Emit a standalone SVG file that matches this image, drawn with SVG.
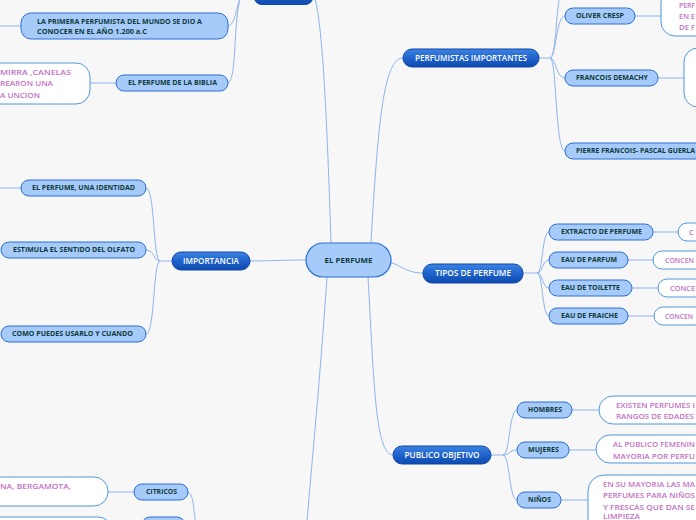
<svg xmlns="http://www.w3.org/2000/svg" width="696" height="520" viewBox="0 0 696 520">
<defs>
<linearGradient id="dk" x1="0" y1="0" x2="0" y2="1">
<stop offset="0" stop-color="#3d83e2"/>
<stop offset="0.5" stop-color="#1f63cc"/>
<stop offset="1" stop-color="#0e4aae"/>
</linearGradient>
<style>
.bg{fill:#f7f7f7}
.c{fill:none;stroke:#8db4ee;stroke-width:1}
.lt{fill:#a6cbfa;stroke:#2a6fd6;stroke-width:1}
.dk{fill:url(#dk);stroke:#0d47a8;stroke-width:1}
.wt{fill:#ffffff;stroke:#4f97dc;stroke-width:1}
.t1{font-family:"Open Sans","Liberation Sans",sans-serif;font-weight:bold;font-size:6.6px;fill:#0f3a3c}
.t2{font-family:"Open Sans","Liberation Sans",sans-serif;font-weight:600;font-size:8px;fill:#ffffff}
.t3{font-family:"Open Sans","Liberation Sans",sans-serif;font-weight:600;font-size:7.6px;fill:#c271c6}
.t0{font-family:"Open Sans","Liberation Sans",sans-serif;font-weight:bold;font-size:7.6px;fill:#0f3a3c}
</style>
</defs>
<rect class="bg" x="0" y="0" width="696" height="520"/>

<g id="connectors">
<path class="c" d="M331,243 C327,120 323,30 315,-2"/>
<path class="c" d="M371,243 C378,120 384,58 403,58"/>
<path class="c" d="M390,262 C405,268 408,273 423,273"/>
<path class="c" d="M306,260 C280,260 270,261 250,261"/>
<path class="c" d="M368,277 C374,380 375,455 393,455"/>
<path class="c" d="M327,277 C320,380 312,460 307,522"/>
<path class="c" d="M539,58 L550,58"/>
<path class="c" d="M550,58 C556,58 556,16 565,16"/>
<path class="c" d="M550,58 C556,58 556,78 565,78"/>
<path class="c" d="M550,58 C557,58 555,151 565,151"/>
<path class="c" d="M550,58 C556,58 556,10 560,-4"/>
<path class="c" d="M635,16 L661,16"/>
<path class="c" d="M658,78 L684,78"/>
<path class="c" d="M523,273 L537,273"/>
<path class="c" d="M537,273 C543,273 542,232 549,232"/>
<path class="c" d="M537,273 C543,273 542,260 549,260"/>
<path class="c" d="M537,273 C543,273 542,288 549,288"/>
<path class="c" d="M537,273 C543,273 542,316 549,316"/>
<path class="c" d="M653,232 L678,232"/>
<path class="c" d="M628,260 L653,260"/>
<path class="c" d="M632,288 L658,288"/>
<path class="c" d="M628,316 L654,316"/>
<path class="c" d="M172,261 L160,261"/>
<path class="c" d="M160,261 C153,261 155,188 146,188"/>
<path class="c" d="M160,261 C153,261 155,250 146,250"/>
<path class="c" d="M160,261 C153,261 155,334 146,334"/>
<path class="c" d="M0,188 L21,188"/>
<path class="c" d="M491,455 L503,455"/>
<path class="c" d="M503,455 C510,455 509,410 517,410"/>
<path class="c" d="M503,455 C510,455 509,450 517,450"/>
<path class="c" d="M503,455 C510,455 509,500 517,500"/>
<path class="c" d="M572,410 L599,410"/>
<path class="c" d="M569,450 L596,450"/>
<path class="c" d="M561,500 L588,500"/>
<path class="c" d="M0,26 L21,26"/>
<path class="c" d="M228,26 C236,24 236,6 241,-4"/>
<path class="c" d="M90,83 L116,83"/>
<path class="c" d="M228,83 C237,80 233,20 241,-4"/>
<path class="c" d="M108,492 L134,492"/>
<path class="c" d="M188,492 C194,494 193,510 196,524"/>
</g>

<g id="n-top"><rect class="dk" x="254" y="-20" width="59" height="24.5" rx="8"/></g>

<g id="n-center">
<rect class="lt" x="306" y="243" width="85" height="34" rx="17" style="stroke-width:1.2"/>
<text class="t0" x="348.5" y="262.7" text-anchor="middle" textLength="48" lengthAdjust="spacingAndGlyphs">EL PERFUME</text>
</g>

<g id="n-primera">
<rect class="lt" x="21" y="13" width="207" height="26" rx="10"/>
<text class="t1" x="37" y="24.2" textLength="165" lengthAdjust="spacingAndGlyphs">LA PRIMERA PERFUMISTA DEL MUNDO SE DIO A</text>
<text class="t1" x="37" y="34.2" textLength="110" lengthAdjust="spacingAndGlyphs">CONOCER EN EL AÑO 1.200 a.C</text>
</g>

<g id="n-biblia">
<rect class="lt" x="116" y="75" width="112" height="16" rx="8"/>
<text class="t1" x="128" y="85.3" textLength="89" lengthAdjust="spacingAndGlyphs">EL PERFUME DE LA BIBLIA</text>
</g>

<g id="n-biblia-d">
<rect class="wt" x="-30" y="63" width="120" height="41" rx="14"/>
<text class="t3" x="0" y="74.5" textLength="71" lengthAdjust="spacingAndGlyphs">MIRRA ,CANELAS</text>
<text class="t3" x="0" y="86" textLength="53" lengthAdjust="spacingAndGlyphs">REARON UNA</text>
<text class="t3" x="0" y="97.5" textLength="40" lengthAdjust="spacingAndGlyphs">A UNCION</text>
</g>

<g id="n-perfumistas">
<rect class="dk" x="403" y="49" width="136" height="18" rx="9"/>
<text class="t2" x="471" y="60.8" text-anchor="middle" textLength="112" lengthAdjust="spacingAndGlyphs">PERFUMISTAS IMPORTANTES</text>
</g>

<g id="n-oliver">
<rect class="lt" x="565" y="8" width="70" height="16" rx="8"/>
<text class="t1" x="576" y="18.3" textLength="48" lengthAdjust="spacingAndGlyphs">OLIVER CRESP</text>
</g>
<g id="n-oliver-d">
<rect class="wt" x="661" y="-12" width="80" height="48" rx="14"/>
<text class="t3" x="679" y="7.6" textLength="16" lengthAdjust="spacingAndGlyphs">PERF</text>
<text class="t3" x="679" y="19" textLength="16" lengthAdjust="spacingAndGlyphs">EN E</text>
<text class="t3" x="679" y="30.4" textLength="16" lengthAdjust="spacingAndGlyphs">DE F</text>
</g>

<g id="n-demachy">
<rect class="lt" x="565" y="70" width="93" height="16" rx="8"/>
<text class="t1" x="576" y="80.3" textLength="72" lengthAdjust="spacingAndGlyphs">FRANCOIS DEMACHY</text>
</g>
<g id="n-demachy-d"><rect class="wt" x="684" y="48" width="60" height="59" rx="14"/></g>

<g id="n-guerlain">
<rect class="lt" x="565" y="143" width="150" height="16" rx="8"/>
<text class="t1" x="576" y="153.3" textLength="119" lengthAdjust="spacingAndGlyphs">PIERRE FRANCOIS- PASCAL GUERLA</text>
</g>

<g id="n-tipos">
<rect class="dk" x="423" y="264" width="100" height="19" rx="9"/>
<text class="t2" x="473" y="276.3" text-anchor="middle" textLength="76" lengthAdjust="spacingAndGlyphs">TIPOS DE PERFUME</text>
</g>

<g id="n-extracto">
<rect class="lt" x="549" y="224" width="104" height="16" rx="8"/>
<text class="t1" x="561" y="234.3" textLength="81" lengthAdjust="spacingAndGlyphs">EXTRACTO DE PERFUME</text>
</g>
<g id="n-extracto-d">
<rect class="wt" x="678" y="223" width="60" height="18" rx="9"/>
<text class="t3" x="689" y="234.7">C</text>
</g>

<g id="n-parfum">
<rect class="lt" x="549" y="252" width="79" height="16" rx="8"/>
<text class="t1" x="561" y="262.3" textLength="56" lengthAdjust="spacingAndGlyphs">EAU DE PARFUM</text>
</g>
<g id="n-parfum-d">
<rect class="wt" x="653" y="251" width="80" height="18" rx="9"/>
<text class="t3" x="665" y="262.7" textLength="29" lengthAdjust="spacingAndGlyphs">CONCEN</text>
</g>

<g id="n-toilette">
<rect class="lt" x="549" y="280" width="83" height="16" rx="8"/>
<text class="t1" x="561" y="290.3" textLength="59" lengthAdjust="spacingAndGlyphs">EAU DE TOILETTE</text>
</g>
<g id="n-toilette-d">
<rect class="wt" x="658" y="279" width="80" height="18" rx="9"/>
<text class="t3" x="670" y="290.7" textLength="25" lengthAdjust="spacingAndGlyphs">CONCE</text>
</g>

<g id="n-fraiche">
<rect class="lt" x="549" y="308" width="79" height="16" rx="8"/>
<text class="t1" x="561" y="318.3" textLength="57" lengthAdjust="spacingAndGlyphs">EAU DE FRAICHE</text>
</g>
<g id="n-fraiche-d">
<rect class="wt" x="654" y="307" width="80" height="18" rx="9"/>
<text class="t3" x="665" y="318.7" textLength="28" lengthAdjust="spacingAndGlyphs">CONCEN</text>
</g>

<g id="n-importancia">
<rect class="dk" x="172" y="252" width="78" height="18" rx="9"/>
<text class="t2" x="211" y="263.8" text-anchor="middle" textLength="56" lengthAdjust="spacingAndGlyphs">IMPORTANCIA</text>
</g>

<g id="n-identidad">
<rect class="lt" x="21" y="180" width="125" height="16" rx="8"/>
<text class="t1" x="32" y="190.3" textLength="103" lengthAdjust="spacingAndGlyphs">EL PERFUME, UNA IDENTIDAD</text>
</g>
<g id="n-olfato">
<rect class="lt" x="1" y="242" width="145" height="16" rx="8"/>
<text class="t1" x="13" y="252.3" textLength="122" lengthAdjust="spacingAndGlyphs">ESTIMULA EL SENTIDO DEL OLFATO</text>
</g>
<g id="n-usarlo">
<rect class="lt" x="1" y="326" width="145" height="16" rx="8"/>
<text class="t1" x="12" y="336.3" textLength="121" lengthAdjust="spacingAndGlyphs">COMO PUEDES USARLO Y CUANDO</text>
</g>

<g id="n-publico">
<rect class="dk" x="393" y="446" width="98" height="18" rx="9"/>
<text class="t2" x="442" y="457.8" text-anchor="middle" textLength="75" lengthAdjust="spacingAndGlyphs">PUBLICO OBJETIVO</text>
</g>

<g id="n-hombres">
<rect class="lt" x="517" y="402" width="55" height="16" rx="8"/>
<text class="t1" x="528" y="412.3" textLength="34" lengthAdjust="spacingAndGlyphs">HOMBRES</text>
</g>
<g id="n-hombres-d">
<rect class="wt" x="599" y="396" width="120" height="28" rx="14"/>
<text class="t3" x="616" y="407.7" textLength="79" lengthAdjust="spacingAndGlyphs">EXISTEN PERFUMES I</text>
<text class="t3" x="616" y="418.7" textLength="78" lengthAdjust="spacingAndGlyphs">RANGOS DE EDADES</text>
</g>

<g id="n-mujeres">
<rect class="lt" x="517" y="442" width="52" height="16" rx="8"/>
<text class="t1" x="528" y="452.3" textLength="31" lengthAdjust="spacingAndGlyphs">MUJERES</text>
</g>
<g id="n-mujeres-d">
<rect class="wt" x="596" y="435" width="120" height="28" rx="14"/>
<text class="t3" x="613" y="446.7" textLength="82" lengthAdjust="spacingAndGlyphs">AL PUBLICO FEMENIN</text>
<text class="t3" x="613" y="458.7" textLength="82" lengthAdjust="spacingAndGlyphs">MAYORIA POR PERFU</text>
</g>

<g id="n-ninos">
<rect class="lt" x="517" y="492" width="44" height="16" rx="8"/>
<text class="t1" x="528" y="502.3" textLength="23" lengthAdjust="spacingAndGlyphs">NIÑOS</text>
</g>
<g id="n-ninos-d">
<rect class="wt" x="588" y="475" width="130" height="60" rx="16"/>
<text class="t3" x="603" y="486.7" textLength="92" lengthAdjust="spacingAndGlyphs">EN SU MAYORIA LAS MA</text>
<text class="t3" x="603" y="498.2" textLength="92" lengthAdjust="spacingAndGlyphs">PERFUMES PARA NIÑOS</text>
<text class="t3" x="603" y="509.7" textLength="92" lengthAdjust="spacingAndGlyphs">Y FRESCAS QUE DAN SE</text>
<text class="t3" x="603" y="519" textLength="37" lengthAdjust="spacingAndGlyphs">LIMPIEZA</text>
</g>

<g id="n-citricos">
<rect class="lt" x="134" y="484" width="54" height="16" rx="8"/>
<text class="t1" x="146" y="494.3" textLength="31" lengthAdjust="spacingAndGlyphs">CITRICOS</text>
</g>
<g id="n-citricos-d">
<rect class="wt" x="-30" y="477" width="138" height="29" rx="14"/>
<text class="t3" x="0" y="488.7" textLength="71" lengthAdjust="spacingAndGlyphs">NA, BERGAMOTA,</text>
</g>

<g id="n-bottom-w"><rect class="wt" x="-30" y="517" width="142" height="30" rx="14"/></g>
<g id="n-bottom-l"><rect class="lt" x="142" y="517" width="43" height="16" rx="8"/></g>
</svg>
